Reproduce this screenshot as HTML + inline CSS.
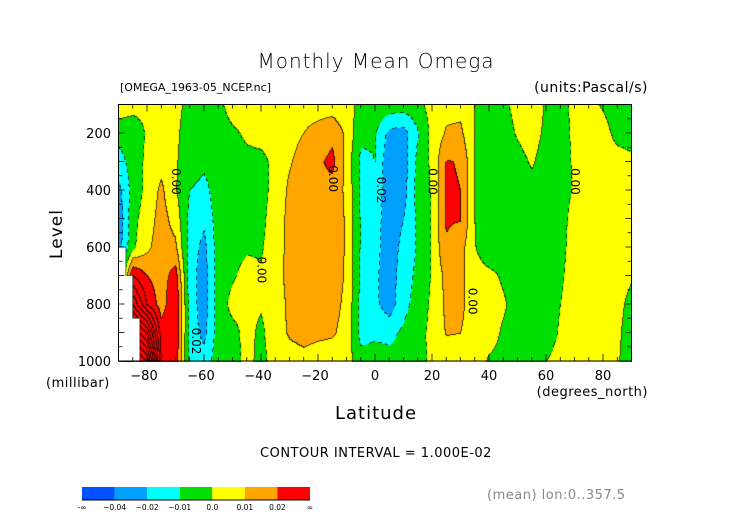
<!DOCTYPE html>
<html><head><meta charset="utf-8"><style>
body{margin:0;background:#fff;width:752px;height:532px;overflow:hidden;position:relative;font-family:"DejaVu Sans","Liberation Sans",sans-serif;}
.t{position:absolute;white-space:nowrap;color:#000;}
canvas{position:absolute;left:118.5px;top:104.5px;}
svg{position:absolute;left:0;top:0;}
</style></head><body>
<div class="t" style="left:0;width:752px;text-align:center;top:49px;font-size:20px;letter-spacing:1px;font-weight:200">Monthly Mean Omega</div>
<div class="t" style="left:120px;top:81px;font-size:11px">[OMEGA_1963-05_NCEP.nc]</div>
<div class="t" style="right:104px;top:80px;font-size:14px;letter-spacing:0.5px">(units:Pascal/s)</div>
<div class="t" style="left:32px;top:224px;font-size:17px;transform:rotate(-90deg);transform-origin:center;letter-spacing:1px">Level</div>
<div class="t" style="left:46px;top:376px;font-size:13px;letter-spacing:0.5px">(millibar)</div>
<div class="t" style="left:0;width:752px;text-align:center;top:403px;font-size:18px;letter-spacing:1px">Latitude</div>
<div class="t" style="right:104px;top:385px;font-size:13px;letter-spacing:0.5px">(degrees_north)</div>
<div class="t" style="left:0;width:752px;text-align:center;top:446px;font-size:13px;letter-spacing:0.5px">CONTOUR INTERVAL = 1.000E-02</div>
<div class="t" style="left:487px;top:488px;font-size:13px;color:#888;letter-spacing:0.5px">(mean) lon:0..357.5</div>
<canvas id="cv" width="513" height="257"></canvas>
<svg id="sv" width="752" height="532"></svg>
<script>
// omega values in units of 0.01 Pa/s; rows = levels, cols = latitudes
const lats=[-90,-85,-80,-75,-70,-65,-60,-55,-50,-45,-40,-35,-30,-25,-20,-15,-10,-5,0,5,10,15,20,25,30,35,40,45,50,55,60,65,70,75,80,85,90];
const levels=[100,200,300,400,500,600,700,800,900,1000];
const omega=[
[0.5,0.3,0.2,0.5,0.3,-0.3,-0.5,-0.3,0.5,0.6,0.7,0.8,0.8,0.7,0.6,0.5,0.3,-0.2,-0.3,-0.4,-0.5,-0.3,0.4,0.7,0.7,0,-0.2,-0.2,0.3,0.6,-0.1,-0.4,0.3,0.3,-0.1,-0.6,-0.7],
[-0.5,-0.5,0.1,0.6,0.2,-0.5,-0.6,-0.5,-0.2,0.2,0.4,0.5,0.7,1.0,1.3,1.7,0.8,-0.8,-0.9,-2.3,-2.4,-1.1,0.3,1.1,1.2,0,-0.4,-0.4,0.1,0.4,-0.2,-0.4,0.2,0.4,0.4,-0.3,-0.4],
[-1.5,-0.5,0.2,0.7,0.1,-0.5,-0.8,-0.5,-0.5,-0.3,-0.3,0.3,0.9,1.4,1.8,2.3,0.6,-1.2,-1.0,-2.8,-2.5,-0.7,0.2,2.05,1.95,0,-0.5,-0.4,-0.3,0.1,-0.4,-0.3,0.1,0.5,0.5,0.4,0.2],
[-2.3,-0.6,0.3,1.2,0.1,-1.0,-1.3,-0.5,-0.6,-0.4,-0.3,0.3,1.2,1.5,1.7,1.6,0.8,-1.2,-1.2,-2.8,-2.4,-0.6,0.1,2.1,2.0,0,-0.5,-0.4,-0.3,-0.3,-0.4,-0.2,0.05,0.5,0.5,0.5,0.4],
[-2.8,-0.3,0.5,1.4,0.6,-1.3,-1.8,-0.5,-0.5,-0.3,-0.2,0.4,1.3,1.6,1.6,1.5,0.9,-1.1,-1.4,-2.8,-2.0,-0.8,0.1,2.1,2.05,0,-0.5,-0.4,-0.3,-0.4,-0.4,-0.2,0.2,0.5,0.5,0.5,0.4],
[-2.5,-0.2,0.8,1.5,1.2,-1.5,-2.3,-0.5,-0.3,-0.1,-0.1,0.5,1.3,1.6,1.6,1.5,0.9,-1.1,-1.6,-2.7,-1.6,-0.9,0.1,1.9,1.4,0.05,-0.5,-0.4,-0.3,-0.4,-0.4,-0.2,0.3,0.5,0.5,0.5,0.3],
[-2,3,2,1.5,2.5,-1.6,-2.5,-0.5,-0.1,0.3,0.1,0.6,1.3,1.6,1.6,1.4,0.9,-1.2,-1.8,-2.6,-1.4,-0.8,0.1,1.3,1.3,0.3,0.2,-0.1,-0.3,-0.4,-0.4,-0.1,0.3,0.5,0.5,0.4,0.1],
[-2,6,3,1.5,3,-1.5,-2.5,-0.5,0.3,0.2,0.1,0.5,1.2,1.5,1.5,1.3,0.8,-1.3,-1.8,-2.5,-1.3,-0.6,0.2,1.2,1.2,0.5,0.3,0.1,-0.3,-0.4,-0.4,0,0.3,0.5,0.5,0.3,-0.3],
[-2,10,8,2.5,3,-1.5,-2.3,-0.5,-0.3,0.3,-0.2,0.6,1.1,1.3,1.2,1.1,0.7,-1.4,-1.2,-1.3,-0.8,-0.4,0.3,1.05,1.0,0.6,0.3,-0.1,-0.3,-0.4,-0.4,0.1,0.4,0.5,0.5,0.2,-0.5],
[-2,14,12,3,2.5,-1.3,-1.5,-0.5,-0.4,0.3,-0.3,0.4,0.6,0.7,0.5,0.5,0.4,-0.5,-0.5,-0.6,-0.5,-0.3,0.2,0.5,0.5,0.4,-0.1,-0.2,-0.3,-0.3,0,0.3,0.4,0.5,0.5,0.1,-0.5]
];
const maskLat=[-90,-87.4,-87.4,-85,-85,-82.5,-82.5,-90];
const maskLev=[600,600,700,700,850,850,1000,1000];
const xTicks=[-80,-60,-40,-20,0,20,40,60,80];
const yTicks=[200,400,600,800,1000];
const binColors=['#0050ff','#00a0ff','#00ffff','#00e000','#ffff00','#ffa500','#ff0000'];
const binEdges=['-\u221e','\u22120.04','\u22120.02','\u22120.01','0.0','0.01','0.02','\u221e'];

const X0=118.5,X1=631.5,Y0=104.5,Y1=361;
const xs=l=>X0+(l+90)/180*(X1-X0);
const ys=p=>Y0+(p-100)/900*(Y1-Y0);
function bin(v){if(v<-4)return 0;if(v<-2)return 1;if(v<-1)return 2;if(v<0)return 3;if(v<1)return 4;if(v<2)return 5;return 6;}
function val(lat,p){
  let i=0;while(i<lats.length-2&&lat>lats[i+1])i++;
  let j=0;while(j<levels.length-2&&p>levels[j+1])j++;
  const tx=Math.min(1,Math.max(0,(lat-lats[i])/(lats[i+1]-lats[i])));
  const ty=Math.min(1,Math.max(0,(p-levels[j])/(levels[j+1]-levels[j])));
  const a=omega[j][i],b=omega[j][i+1],c=omega[j+1][i],d=omega[j+1][i+1];
  return (a*(1-tx)+b*tx)*(1-ty)+(c*(1-tx)+d*tx)*ty;
}
const cv=document.getElementById('cv'),ctx=cv.getContext('2d');
const W=cv.width,H=cv.height,img=ctx.createImageData(W,H);
const rgb=binColors.map(h=>[parseInt(h.substr(1,2),16),parseInt(h.substr(3,2),16),parseInt(h.substr(5,2),16)]);
const V=new Float32Array(W*H);
for(let y=0;y<H;y++)for(let x=0;x<W;x++){
  const lat=-90+(x+0.5)/W*180,p=100+(y+0.5)/H*900;V[y*W+x]=val(lat,p);
}
for(let y=0;y<H;y++)for(let x=0;x<W;x++){
  const k=y*W+x,v=V[k],c=rgb[bin(v)];let line=false;
  const f=Math.floor(v);
  if(x<W-1&&Math.floor(V[k+1])!==f)line=true;
  if(y<H-1&&Math.floor(V[k+W])!==f)line=true;
  if(line&&v<0&&((x+y)>>2)%2)line=false;
  const o=k*4;
  if(line){img.data[o]=c[0]*0.25;img.data[o+1]=c[1]*0.25;img.data[o+2]=c[2]*0.25;}
  else{img.data[o]=c[0];img.data[o+1]=c[1];img.data[o+2]=c[2];}
  img.data[o+3]=255;
}
ctx.putImageData(img,0,0);

const NS='http://www.w3.org/2000/svg',sv=document.getElementById('sv');
function mk(tag,at){const e=document.createElementNS(NS,tag);for(const k in at)e.setAttribute(k,at[k]);sv.appendChild(e);return e;}
let pts=maskLat.map((l,i)=>xs(l)+','+ys(maskLev[i])).join(' ');
const mask=mk('polygon',{points:pts,fill:'#fff',stroke:'#000','stroke-width':0.5});


const frame=mk('rect',{x:X0,y:Y0,width:X1-X0,height:Y1-Y0,fill:'none',stroke:'#000','stroke-width':1});


for(let l=-90;l<=90;l+=5){const x=xs(l),big=(l%20===0&&l!==0)||l===0;const L=big?7:4;
  mk('line',{x1:x,x2:x,y1:Y1,y2:Y1-L,stroke:'#000','stroke-width':0.8});
  mk('line',{x1:x,x2:x,y1:Y0,y2:Y0+L,stroke:'#000','stroke-width':0.8});}
for(let p=100;p<=1000;p+=50){const y=ys(p),L=(p%100===0)?6:4;
  mk('line',{x1:X0,x2:X0+L,y1:y,y2:y,stroke:'#000','stroke-width':0.8});
  mk('line',{x1:X1,x2:X1-L,y1:y,y2:y,stroke:'#000','stroke-width':0.8});}
xTicks.forEach(l=>{const t=mk('text',{x:xs(l)-(l<0?3:0),y:380,'text-anchor':'middle','font-size':13,'font-family':'DejaVu Sans, sans-serif'});t.textContent=l<0?'\u2212'+(-l):''+l;
  
  });
yTicks.forEach(p=>{const t=mk('text',{x:111,y:ys(p)+5,'text-anchor':'end','font-size':13,'font-family':'DejaVu Sans, sans-serif'});t.textContent=''+p;
  
  });
// contour labels
[['0.00',-70,370],['0.00',-15,360],['0.02',2,400],['0.00',20,370],['0.00',-40,680],['0.00',34,790],['0.02',-63,930],['0.00',70,370]].forEach(a=>{
  const x=xs(a[1]),y=ys(a[2]);
  const t=mk('text',{x:x,y:y,'text-anchor':'middle','font-size':12,'font-family':'DejaVu Sans, sans-serif',transform:`rotate(90 ${x} ${y})`,'dominant-baseline':'middle'});t.textContent=a[0];
  
  });
// legend
const LX=82,LW=228,LY=487,LH=13,bw=LW/binColors.length;
binColors.forEach((c,i)=>{const r=mk('rect',{x:LX+i*bw,y:LY,width:bw,height:LH,fill:c});
  
  });
mk('line',{x1:LX,x2:LX+LW,y1:LY+LH,y2:LY+LH,stroke:'#000','stroke-width':1});
binEdges.forEach((s,i)=>{const t=mk('text',{x:LX+i*bw,y:LY+LH+10,'text-anchor':'middle','font-size':7.5,'font-family':'DejaVu Sans, sans-serif'});t.textContent=s;
  
  });
</script>
</body></html>
